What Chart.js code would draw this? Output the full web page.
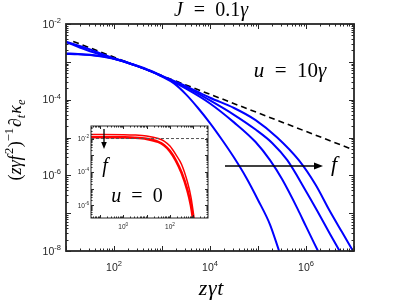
<!DOCTYPE html>
<html>
<head>
<meta charset="utf-8">
<script src="https://cdn.jsdelivr.net/npm/chart.js@4/dist/chart.umd.min.js"></script>
<style>
  body { margin: 0; background: #fff; }
  #wrap { position: relative; width: 415px; height: 304px; }
  #main { position: absolute; left: 0; top: 0; }
  #inset { position: absolute; left: 70px; top: 120px; }
</style>
</head>
<body>
<div id="wrap">
  <canvas id="main" width="415" height="304"></canvas>
  <canvas id="inset" width="142" height="116"></canvas>
</div>
<script>
// values, kept as log10 (x = z*gamma*t, y = rate)
const logT1 = [1.0, 1.25, 1.5, 1.75, 2.0, 2.25, 2.5, 2.75, 3.0, 3.25, 3.5, 3.75, 4.0, 4.25, 4.5, 4.75, 5.0, 5.25, 5.44];
const logK1 = [-2.79, -2.80, -2.82, -2.86, -2.92, -3.01, -3.12, -3.24, -3.39, -3.57, -3.86, -4.22, -4.62, -5.06, -5.53, -6.05, -6.65, -7.3, -8.0];
const logT2 = [1.0, 1.25, 1.5, 1.75, 2.0, 2.25, 2.5, 2.75, 3.0, 3.5, 4.0, 4.5, 4.95, 5.25, 5.5, 5.83, 6.0, 6.25];
const logK2 = [-2.78, -2.79, -2.81, -2.85, -2.91, -3.01, -3.12, -3.24, -3.38, -3.71, -4.10, -4.60, -5.12, -5.60, -6.10, -6.90, -7.35, -8.0];
const logT3 = [1.0, 1.25, 1.5, 1.75, 2.0, 2.25, 2.5, 2.75, 3.0, 3.5, 4.0, 4.5, 4.95, 5.3, 5.61, 6.0, 6.23, 6.5, 6.7];
const logK3 = [-2.48, -2.60, -2.72, -2.82, -2.92, -3.01, -3.12, -3.24, -3.38, -3.67, -4.02, -4.40, -4.79, -5.15, -5.60, -6.42, -6.93, -7.55, -8.0];
const logT4 = [1.0, 1.25, 1.5, 1.75, 2.0, 2.25, 2.5, 2.75, 3.0, 3.5, 4.0, 4.5, 4.95, 5.4, 5.85, 6.2, 6.49, 6.75, 6.98];
const logK4 = [-2.47, -2.57, -2.67, -2.79, -2.91, -3.00, -3.11, -3.23, -3.37, -3.64, -3.95, -4.22, -4.54, -5.00, -5.60, -6.25, -6.93, -7.50, -8.0];
const logTdash = [1.15, 7.0];
const logKdash = [-2.46, -5.33];

// inset, u = 0
const logTa = [-1.38, 0, 0.5, 1.0, 1.5, 1.75, 2.0, 2.25, 2.5, 2.75, 2.9, 3.05];
const logKa = [-1.76, -1.77, -1.79, -1.85, -2.0, -2.15, -2.45, -2.95, -3.55, -4.6, -5.5, -6.9];
const logTb = [-1.38, 0, 0.5, 1.0, 1.5, 1.75, 2.0, 2.25, 2.5, 2.75, 2.9, 3.0];
const logKb = [-1.92, -1.93, -1.95, -2.02, -2.2, -2.4, -2.75, -3.3, -4.05, -5.1, -6.0, -6.9];
const logTref = [-1.38, 3.63];
const logKref = [-2, -2];

// tick labels (exponents of 10)
const mainXExp = [2, 4, 6];
const mainYExp = [-2, -4, -6, -8];
const insetXExp = [0, 2];
const insetYExp = [-2, -4, -6];

const pts = (lt, lk) => lt.map((t, i) => ({ x: Math.pow(10, t), y: Math.pow(10, lk[i]) }));

const ink = '#262626';
const sansF = s => s + 'px "Liberation Sans", Arial, sans-serif';
const serifF = (s, it) => (it ? 'italic ' : '') + s + 'px "Liberation Serif", "Times New Roman", serif';

function logTicks(s) {
  const out = [];
  for (let k = Math.floor(Math.log10(s.min)); k <= Math.ceil(Math.log10(s.max)); k++) {
    for (let m = 1; m < 10; m++) {
      const v = m * Math.pow(10, k);
      if (v >= s.min * 0.999 && v <= s.max * 1.001) out.push([v, m === 1]);
    }
  }
  return out;
}

function powLabel(ctx, exp, x, y, size, align) {
  const small = size * 0.72;
  ctx.font = sansF(size);
  const w1 = ctx.measureText('10').width;
  ctx.font = sansF(small);
  const w2 = ctx.measureText(exp).width;
  const x0 = align === 'right' ? x - w1 - w2 : x - (w1 + w2) / 2;
  ctx.textAlign = 'left';
  ctx.textBaseline = 'alphabetic';
  ctx.font = sansF(size);
  ctx.fillText('10', x0, y);
  ctx.font = sansF(small);
  ctx.fillText(exp, x0 + w1, y - size * 0.45);
}

// runs: [text, scale, dy (em), italic, extra gap after (em)]
function drawRuns(ctx, runs, cx, cy, size) {
  let w = 0;
  const ws = runs.map(r => {
    ctx.font = serifF(size * r[1], r[3]);
    const m = ctx.measureText(r[0]).width + (r[4] || 0) * size;
    w += m;
    return m;
  });
  let x = cx - w / 2;
  ctx.textAlign = 'left';
  ctx.textBaseline = 'alphabetic';
  runs.forEach((r, i) => {
    ctx.font = serifF(size * r[1], r[3]);
    ctx.fillText(r[0], x, cy + r[2] * size);
    x += ws[i];
  });
}

function arrow(ctx, x1, y1, x2, y2, head) {
  const ang = Math.atan2(y2 - y1, x2 - x1);
  ctx.beginPath();
  ctx.moveTo(x1, y1);
  ctx.lineTo(x2 - Math.cos(ang) * head, y2 - Math.sin(ang) * head);
  ctx.stroke();
  ctx.beginPath();
  ctx.moveTo(x2, y2);
  ctx.lineTo(x2 - Math.cos(ang) * head - Math.sin(ang) * head * 0.4, y2 - Math.sin(ang) * head + Math.cos(ang) * head * 0.4);
  ctx.lineTo(x2 - Math.cos(ang) * head + Math.sin(ang) * head * 0.4, y2 - Math.sin(ang) * head - Math.cos(ang) * head * 0.4);
  ctx.closePath();
  ctx.fill();
}

const frameTicks = {
  id: 'frameTicks',
  beforeDatasetsDraw(chart, args, o) {
    const a = chart.chartArea, ctx = chart.ctx;
    if (o.fill) {
      ctx.save();
      ctx.fillStyle = '#fff';
      ctx.fillRect(a.left, a.top, a.right - a.left, a.bottom - a.top);
      ctx.restore();
    }
  },
  afterDatasetsDraw(chart, args, o) {
    const ctx = chart.ctx, a = chart.chartArea;
    const xs = chart.scales.x, ys = chart.scales.y;
    ctx.save();
    ctx.strokeStyle = ink;
    ctx.fillStyle = ink;
    ctx.lineWidth = 1;
    ctx.beginPath();
    logTicks(xs).forEach(([v, major]) => {
      const p = Math.round(xs.getPixelForValue(v)) + 0.5;
      const len = major ? o.major : o.minor;
      ctx.moveTo(p, a.bottom); ctx.lineTo(p, a.bottom - len);
      ctx.moveTo(p, a.top); ctx.lineTo(p, a.top + len);
    });
    logTicks(ys).forEach(([v, major]) => {
      const p = Math.round(ys.getPixelForValue(v)) + 0.5;
      const len = major ? o.major : o.minor;
      ctx.moveTo(a.left, p); ctx.lineTo(a.left + len, p);
      ctx.moveTo(a.right, p); ctx.lineTo(a.right - len, p);
    });
    ctx.stroke();
    ctx.lineWidth = o.frame;
    ctx.strokeRect(a.left, a.top, a.right - a.left, a.bottom - a.top);
    o.xExp.forEach(e => powLabel(ctx, String(e), xs.getPixelForValue(Math.pow(10, e)), a.bottom + o.xOff, o.size, 'center'));
    o.yExp.forEach(e => powLabel(ctx, String(e), a.left - o.yGap, ys.getPixelForValue(Math.pow(10, e)) + o.size * 0.36, o.size, 'right'));
    ctx.restore();
  }
};

const eq = '\u2002=\u2002';

const mainText = {
  id: 'mainText',
  afterDraw(chart) {
    const ctx = chart.ctx;
    ctx.save();
    ctx.fillStyle = '#000';
    drawRuns(ctx, [['J', 1, 0, true, 0.05], [eq + '0.1', 1, 0, false], ['γ', 1, 0, true]], 211, 16, 20);
    drawRuns(ctx, [['u', 1, 0, true], [eq + '10', 1, 0, false], ['γ', 1, 0, true]], 290, 77, 21);
    drawRuns(ctx, [['z', 1, 0, true, 0.03], ['γ', 1, 0, true, 0.03], ['t', 1, 0, true]], 211, 295, 22);
    drawRuns(ctx, [['f', 1, 0, true]], 334, 171, 22);
    ctx.translate(21, 140);
    ctx.rotate(-Math.PI / 2);
    drawRuns(ctx, [['(', 1, 0, false], ['zγf', 1, 0, true, 0.08], ['2', 0.7, -0.42, false, 0.02], [')', 1, 0, false],
      ['−1', 0.7, -0.42, false, 0.05], ['∂', 1, 0, true], ['t', 0.7, 0.2, true, 0.05], ['κ', 1, 0, true], ['e', 0.7, 0.2, true]], 0, 0, 18);
    ctx.restore();
    ctx.save();
    ctx.strokeStyle = '#000';
    ctx.fillStyle = '#000';
    ctx.lineWidth = 1.5;
    arrow(ctx, 225, 166, 323, 166, 9);
    ctx.restore();
  }
};

const insetText = {
  id: 'insetText',
  afterDraw(chart) {
    const ctx = chart.ctx;
    ctx.save();
    ctx.fillStyle = '#000';
    ctx.strokeStyle = '#000';
    drawRuns(ctx, [['f', 1, 0, true]], 35, 52, 20);
    drawRuns(ctx, [['u', 1, 0, true], [eq + '0', 1, 0, false]], 67, 82, 20);
    ctx.lineWidth = 1.3;
    arrow(ctx, 34, 9, 34, 29, 7);
    ctx.restore();
  }
};

const logAxis = (min, max, size) => ({
  type: 'logarithmic', min: min, max: max,
  ticks: { display: false }, grid: { display: false }, border: { display: false },
  afterFit: s => { if (s.isHorizontal()) s.height = size; else s.width = size; }
});

const line = (data, color, width, dash) => ({
  data: data, borderColor: color, borderWidth: width, borderDash: dash || [],
  pointRadius: 0, fill: false, cubicInterpolationMode: 'monotone'
});

new Chart(document.getElementById('main'), {
  type: 'line',
  data: {
    datasets: [
      line(pts(logT1, logK1), '#0000ff', 2),
      line(pts(logT2, logK2), '#0000ff', 2),
      line(pts(logT3, logK3), '#0000ff', 2),
      line(pts(logT4, logK4), '#0000ff', 2),
      line(pts(logTdash, logKdash), '#000', 1.6, [6, 4])
    ]
  },
  options: {
    responsive: false, animation: false, devicePixelRatio: 1,
    layout: { padding: { left: 0, top: 24, right: 61, bottom: 0 } },
    plugins: {
      legend: { display: false }, tooltip: { enabled: false },
      frameTicks: { major: 5, minor: 2.5, frame: 1.8, size: 10.5, xOff: 20, yGap: 5, xExp: mainXExp, yExp: mainYExp }
    },
    scales: {
      x: logAxis(10, 1e7, 53),
      y: logAxis(1e-8, 1e-2, 66)
    }
  },
  plugins: [frameTicks, mainText]
});

new Chart(document.getElementById('inset'), {
  type: 'line',
  data: {
    datasets: [
      line(pts(logTref, logKref), '#555', 1, [3, 2]),
      line(pts(logTa, logKa), '#ff0000', 1.5),
      line(pts(logTb, logKb), '#ff0000', 2.6)
    ]
  },
  options: {
    responsive: false, animation: false, devicePixelRatio: 1,
    layout: { padding: { left: 0, top: 6, right: 4, bottom: 0 } },
    plugins: {
      legend: { display: false }, tooltip: { enabled: false },
      frameTicks: { fill: true, major: 3, minor: 1.5, frame: 1, size: 6.5, xOff: 11, yGap: 2, xExp: insetXExp, yExp: insetYExp }
    },
    scales: {
      x: logAxis(Math.pow(10, -1.38), Math.pow(10, 3.63), 18),
      y: logAxis(Math.pow(10, -6.75), Math.pow(10, -1.25), 21)
    }
  },
  plugins: [frameTicks, insetText]
});
</script>
</body>
</html>
